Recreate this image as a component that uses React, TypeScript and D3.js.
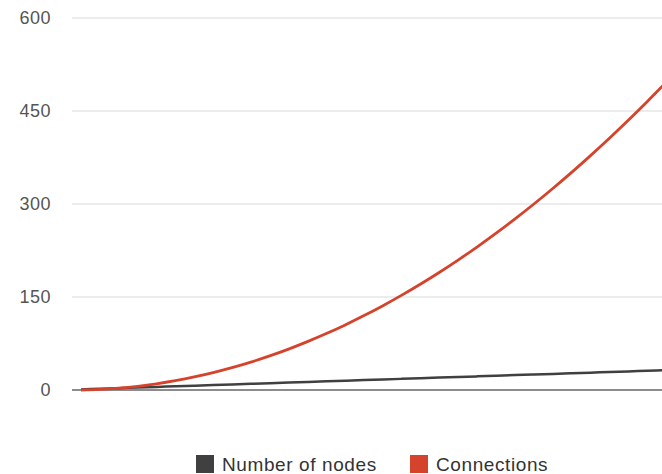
import React, { useRef, useEffect } from 'react';
import * as d3 from 'd3';

const nodes = [1, 2, 3, 4, 5, 6, 7, 8, 9, 10, 11, 12, 13, 14, 15, 16, 17, 18, 19, 20, 21, 22, 23, 24, 25, 26, 27, 28, 29, 30, 31, 32];
const connections = [0, 1, 3, 6, 10, 15, 21, 28, 36, 45, 55, 66, 78, 91, 105, 120, 136, 153, 171, 190, 210, 231, 253, 276, 300, 325, 351, 378, 406, 435, 465, 496];
const yTicks = [0, 150, 300, 450, 600];
const seriesNames = ['Number of nodes', 'Connections'];
const seriesColors = ['#404040', '#d5432c'];

const App: React.FC = () => {
  const chartRef = useRef<SVGSVGElement>(null);

  useEffect(() => {
    const svg = d3.select(chartRef.current);
    svg.selectAll('*').remove();

    const width = 662;
    const left = 72;
    const font = 'Liberation Sans, Arial, sans-serif';

    const x = d3.scaleLinear().domain([1, 32]).range([81, 666]);
    const y = d3.scaleLinear().domain([0, 600]).range([390, 18]);

    // grid
    svg.selectAll('.grid')
      .data(yTicks.filter(d => d !== 0))
      .enter().append('line')
      .attr('x1', left)
      .attr('x2', width)
      .attr('y1', d => y(d))
      .attr('y2', d => y(d))
      .style('stroke', '#d9d9d9')
      .style('stroke-width', 1.2);

    svg.selectAll('.tick')
      .data(yTicks)
      .enter().append('text')
      .attr('x', 51)
      .attr('y', d => y(d))
      .attr('dy', '0.35em')
      .attr('text-anchor', 'end')
      .style('font-family', font)
      .style('font-size', '18px')
      .style('letter-spacing', '0.5px')
      .style('fill', '#555')
      .text(d => d.toString());

    // baseline
    svg.append('line')
      .attr('x1', left)
      .attr('x2', width)
      .attr('y1', y(0))
      .attr('y2', y(0))
      .style('stroke', '#666')
      .style('stroke-width', 1.5);

    const line = d3.line<number>()
      .x((d, i) => x(nodes[i]))
      .y(d => y(d))
      .curve(d3.curveMonotoneX);

    svg.append('path')
      .datum(nodes)
      .attr('d', line)
      .style('fill', 'none')
      .style('stroke', seriesColors[0])
      .style('stroke-width', 2.5);

    svg.append('path')
      .datum(connections)
      .attr('d', line)
      .style('fill', 'none')
      .style('stroke', seriesColors[1])
      .style('stroke-width', 2.8);

    // legend
    const legendX = [196, 410];
    const legend = svg.selectAll('.legend')
      .data(seriesNames)
      .enter().append('g')
      .attr('transform', (d, i) => `translate(${legendX[i]},455)`);

    legend.append('rect')
      .attr('width', 18)
      .attr('height', 18)
      .style('fill', (d, i) => seriesColors[i]);

    legend.append('text')
      .attr('x', 26)
      .attr('y', 16)
      .style('font-family', font)
      .style('font-size', '19px')
      .style('letter-spacing', '0.6px')
      .style('fill', '#333')
      .text(d => d);
  }, []);

  return (
    <div style={{ position: 'absolute', left: 0, top: 0 }}>
      <svg ref={chartRef} width={662} height={474} style={{ display: 'block' }} />
    </div>
  );
};

export default App;
